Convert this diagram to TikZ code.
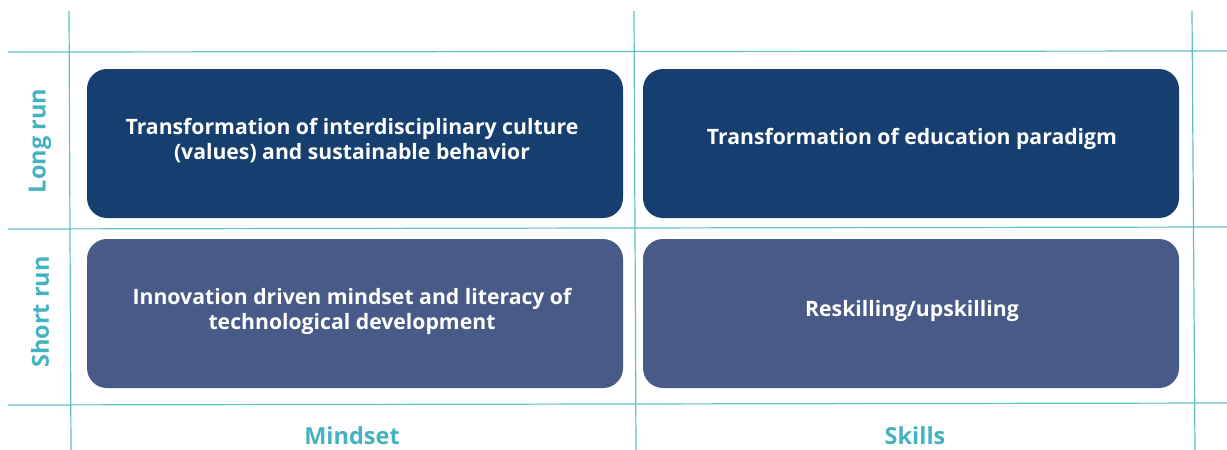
\documentclass[tikz,border=0pt]{standalone}
\usepackage{fontspec}
\setmainfont{Open Sans}
\definecolor{gridc}{HTML}{5BC0C8}
\definecolor{labc}{HTML}{45B3BF}
\definecolor{longc}{HTML}{163F6F}
\definecolor{shortc}{HTML}{485A88}
\begin{document}
\begin{tikzpicture}[x=1pt,y=-1pt,
  gridline/.style={draw=gridc, line width=1.2pt},
  cell/.style={rounded corners=20pt, minimum width=536pt, minimum height=149pt, inner sep=0pt},
  longcell/.style={cell, fill=longc},
  shortcell/.style={cell, fill=shortc},
  celltext/.style={text=white, font=\bfseries\fontsize{21.2}{25}\selectfont, align=center, inner sep=0pt},
  axislab/.style={text=labc, font=\bfseries\fontsize{23.5}{25}\selectfont, inner sep=0pt}]
\useasboundingbox (0,0) rectangle (1227,450);
% grid
\coordinate (v1t) at (69,11); \coordinate (v1b) at (71,450);
\coordinate (v2t) at (634,11); \coordinate (v2b) at (636,450);
\coordinate (v3t) at (1192,11); \coordinate (v3b) at (1195,450);
\coordinate (h1l) at (8,52); \coordinate (h1r) at (1227,51);
\coordinate (h2l) at (8,229); \coordinate (h2r) at (1227,227);
\coordinate (h3l) at (8,405); \coordinate (h3r) at (1227,403);
\draw[gridline] (v1t) -- (v1b);
\draw[gridline] (v2t) -- (v2b);
\draw[gridline] (v3t) -- (v3b);
\draw[gridline] (h1l) -- (h1r);
\draw[gridline] (h2l) -- (h2r);
\draw[gridline] (h3l) -- (h3r);
% cells
\node[longcell] (tl) at (355,143.5) {};
\node[longcell] (tr) at (911,143.5) {};
\node[shortcell] (bl) at (355,313.5) {};
\node[shortcell] (br) at (911,313.5) {};
\node[celltext] (tlt) at (352,140.5) {Transformation of interdisciplinary culture\\(values) and sustainable behavior};
\node[celltext] (trt) at (912,139) {Transformation of education paradigm};
\node[celltext] (blt) at (352,311.5) {Innovation driven mindset and literacy of\\technological development};
\node[celltext] (brt) at (912,311) {Reskilling/upskilling};
% axis labels
\node[axislab, rotate=90] (lr) at (40,141) {Long run};
\node[axislab, rotate=90] (sr) at (40,312) {Short run};
\node[axislab] (ms) at (352,436) {Mindset};
\node[axislab] (sk) at (915,436) {Skills};
\end{tikzpicture}
\end{document}
